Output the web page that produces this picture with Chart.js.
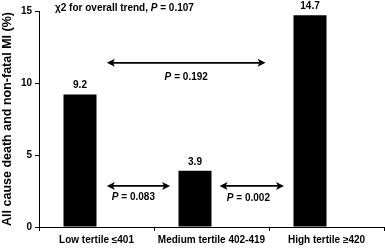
<!DOCTYPE html>
<html><head><meta charset="utf-8">
<script src="https://cdn.jsdelivr.net/npm/chart.js@4/dist/chart.umd.min.js"></script>
<style>html,body{margin:0;padding:0;background:#fff;}canvas{display:block;}</style>
</head><body>
<canvas id="c" width="385" height="249"></canvas>
<script>
const categories = ["Low tertile \u2264401", "Medium tertile 402-419", "High tertile \u2265420"];
const values = [9.2, 3.9, 14.7];
const valueLabels = ["9.2", "3.9", "14.7"];
const yTicks = [0, 5, 10, 15];
const yTitle = "All cause death and non-fatal MI (%)";
const trendTitle = ["\u03c72 for overall trend, ", "P", " = 0.107"];
// comparisons: from category position, to category position (fractional), value level, p label
const arrowFrom = [0.09, 0.09, 1.07];
const arrowTo = [1.47, 0.64, 1.63];
const arrowLevel = [11.4, 2.85, 2.85];
const arrowP = ["0.192", "0.083", "0.002"];
const pLabelX = [0.78, 0.32, 1.32];
const pLabelLevel = [10.4, 2.05, 2.0];

const FONT = '"Liberation Sans", Arial, sans-serif';

const annot = {
  id: 'annot',
  afterDatasetsDraw(chart) {
    const ctx = chart.ctx, xs = chart.scales.x, ys = chart.scales.y;
    ctx.save();
    ctx.fillStyle = '#000';
    ctx.strokeStyle = '#000';
    // value labels
    const meta = chart.getDatasetMeta(0);
    ctx.font = 'bold 10px ' + FONT;
    ctx.textAlign = 'center';
    ctx.textBaseline = 'bottom';
    meta.data.forEach((b, i) => {
      ctx.fillText(valueLabels[i], b.x, b.y - 4);
    });
    // arrows
    const px = v => xs.getPixelForValue(0) + v * (xs.getPixelForValue(1) - xs.getPixelForValue(0));
    for (let i = 0; i < arrowFrom.length; i++) {
      const x1 = px(arrowFrom[i]), x2 = px(arrowTo[i]), y = ys.getPixelForValue(arrowLevel[i]);
      ctx.lineWidth = 1.8;
      ctx.beginPath();
      ctx.moveTo(x1 + 3, y); ctx.lineTo(x2 - 3, y); ctx.stroke();
      ctx.beginPath();
      ctx.moveTo(x1, y); ctx.lineTo(x1 + 8, y - 4); ctx.lineTo(x1 + 6, y); ctx.lineTo(x1 + 8, y + 4); ctx.closePath(); ctx.fill();
      ctx.beginPath();
      ctx.moveTo(x2, y); ctx.lineTo(x2 - 8, y - 4); ctx.lineTo(x2 - 6, y); ctx.lineTo(x2 - 8, y + 4); ctx.closePath(); ctx.fill();
      // P label
      const lx = px(pLabelX[i]), ly = ys.getPixelForValue(pLabelLevel[i]);
      ctx.textBaseline = 'middle';
      ctx.font = 'bold italic 10px ' + FONT;
      const wP = ctx.measureText('P').width;
      ctx.font = 'bold 10px ' + FONT;
      const rest = '= ' + arrowP[i];
      const wR = ctx.measureText(rest).width;
      const total = wP + 3 + wR;
      let sx = lx - total / 2;
      ctx.textAlign = 'left';
      ctx.font = 'bold italic 10px ' + FONT;
      ctx.fillText('P', sx, ly);
      ctx.font = 'bold 10px ' + FONT;
      ctx.fillText(rest, sx + wP + 3, ly);
    }
    // trend title
    let tx = 55, ty = 8;
    ctx.textBaseline = 'middle';
    ctx.textAlign = 'left';
    trendTitle.forEach((s, k) => {
      ctx.font = (k === 1 ? 'bold italic ' : 'bold ') + '10px ' + FONT;
      ctx.fillText(s, tx, ty);
      tx += ctx.measureText(s).width;
    });
    ctx.restore();
  }
};

new Chart(document.getElementById('c'), {
  type: 'bar',
  data: {
    labels: categories,
    datasets: [
      { data: values, backgroundColor: '#000', borderWidth: 0 },
      { data: values.map(() => null), backgroundColor: '#000', borderWidth: 0 }
    ]
  },
  options: {
    responsive: false,
    animation: false,
    devicePixelRatio: 1,
    categoryPercentage: 0.574,
    barPercentage: 1.0,
    layout: { padding: { top: 11, right: 1, left: 0, bottom: 0 } },
    plugins: { legend: { display: false }, tooltip: { enabled: false }, title: { display: false } },
    scales: {
      x: {
        grid: { display: true, drawOnChartArea: false, offset: true, color: '#000', tickLength: 4, lineWidth: 1 },
        border: { display: true, color: '#000', width: 1 },
        ticks: { color: '#000', font: { family: FONT, size: 10, weight: 'bold' }, maxRotation: 0, autoSkip: false, padding: 3 },
        afterFit(s) { s.height = 22; }
      },
      y: {
        min: 0, max: 15,
        afterBuildTicks(s) { s.ticks = yTicks.map(v => ({ value: v })); },
        grid: { display: true, drawOnChartArea: false, color: '#000', tickLength: 4 },
        border: { display: true, color: '#000', width: 1 },
        ticks: { color: '#000', font: { family: FONT, size: 10, weight: 'bold' }, padding: 3 },
        title: { display: true, text: yTitle, color: '#000', font: { family: FONT, size: 12.5, weight: 'bold' }, padding: 0 },
        afterFit(s) { s.width = 39; }
      }
    }
  },
  plugins: [annot]
});
</script>
</body></html>
